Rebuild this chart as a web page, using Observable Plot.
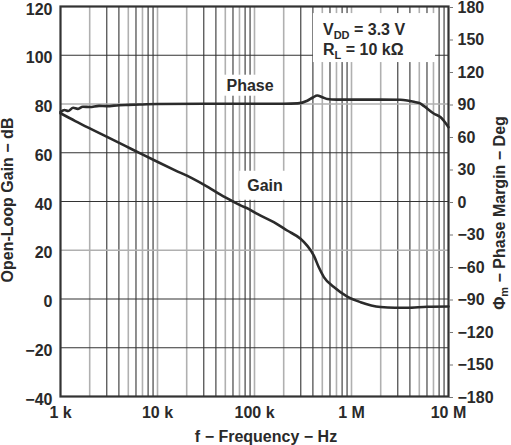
<!DOCTYPE html>
<html><head><meta charset="utf-8">
<script src="https://cdn.jsdelivr.net/npm/d3@7"></script>
<script src="https://cdn.jsdelivr.net/npm/@observablehq/plot@0.6"></script>
<style>
html,body{margin:0;padding:0;background:#fff;}
svg{font-family:"Liberation Sans",Arial,sans-serif;}
</style></head><body>
<div id="chart"></div>
<script>
// Open-loop gain (dB) vs frequency (Hz)
const gainFreq = [1000, 1420, 2100, 3130, 4650, 6890, 10200, 15200, 22600, 33600, 44600, 60000, 71800, 86700, 107000, 158000, 217000, 298000, 349000, 409000, 460000, 519000, 658000, 904000, 1240000, 1990000, 2800000, 3750000, 6030000, 10000000];
const gainDb   = [76.2, 73.0, 69.6, 66.2, 62.8, 59.4, 56.1, 52.8, 49.6, 45.8, 42.8, 40.0, 38.4, 37.0, 34.9, 31.5, 28.1, 24.7, 21.9, 17.8, 13.0, 9.0, 4.9, 1.0, -1.3, -3.3, -3.6, -3.6, -3.2, -3.1];

// Phase margin (deg) vs frequency (Hz)
const phaseFreq = [1000, 1100, 1200, 1350, 1500, 1700, 2000, 2500, 3000, 4000, 5000, 7000, 10000, 30000, 100000, 200000, 280000, 350000, 400000, 443000, 500000, 562000, 700000, 1000000, 2000000, 3200000, 3750000, 4400000, 5100000, 5600000, 7100000, 8300000, 10000000];
const phaseDeg  = [82.5, 84.5, 83.5, 86.5, 85.5, 87.5, 87.2, 88.3, 88.0, 88.9, 89.2, 89.6, 90.0, 90.3, 90.3, 90.3, 90.6, 93.0, 96.0, 97.9, 96.3, 94.7, 94.0, 94.0, 94.0, 93.9, 93.3, 92.0, 90.5, 88.0, 81.0, 77.8, 68.6];

const xTicks = [1e3, 1e4, 1e5, 1e6, 1e7];
const xTickLabels = ["1 k", "10 k", "100 k", "1 M", "10 M"];
const gainTicks = [-40, -20, 0, 20, 40, 60, 80, 100, 120];
const phaseTicks = [-180, -150, -120, -90, -60, -30, 0, 30, 60, 90, 120, 150, 180];

const GAIN_MIN = -40, GAIN_MAX = 120, PH_MIN = -180, PH_MAX = 180;
const toLeft = deg => (deg - PH_MIN) / (PH_MAX - PH_MIN) * (GAIN_MAX - GAIN_MIN) + GAIN_MIN;
const toPhase = v => (v - GAIN_MIN) / (GAIN_MAX - GAIN_MIN) * (PH_MAX - PH_MIN) + PH_MIN;
const minus = s => String(s).replace("-", "\u2212");

// log grid lines
const gridFreqs = [];
for (const dec of [1e3, 1e4, 1e5, 1e6]) for (let m = 1; m <= 9; m++) { const f = m * dec; if (f > 1e3) gridFreqs.push(f); }
const mant = f => Math.round(f / Math.pow(10, Math.floor(Math.log10(f) + 1e-9)));
const darkV = gridFreqs.filter(f => [3, 4, 6, 8, 9].includes(mant(f)));
const lightV = gridFreqs.filter(f => ![3, 4, 6, 8, 9].includes(mant(f)));
const darkH = [100, 60, 40, 0, -20];
const lightH = [80, 20];

const gainData = gainFreq.map((f, i) => ({f, v: gainDb[i]}));
const phaseData = phaseFreq.map((f, i) => ({f, v: toLeft(phaseDeg[i])}));

const plot = Plot.plot({
  width: 511, height: 445,
  marginLeft: 60, marginRight: 63, marginTop: 6, marginBottom: 49,
  style: {fontFamily: "'Liberation Sans', Arial, sans-serif", fontSize: "16px", fontWeight: "bold", color: "#2a2a2a", background: "white", overflow: "visible"},
  x: {type: "log", domain: [1e3, 1e7]},
  y: {domain: [GAIN_MIN, GAIN_MAX]},
  marks: [
    Plot.ruleX(lightV, {stroke: "#b0b0b0", strokeWidth: 1.6}),
    Plot.ruleX(darkV, {stroke: "#333", strokeWidth: 1.1}),
    Plot.ruleY(lightH, {stroke: "#b0b0b0", strokeWidth: 1.6}),
    Plot.ruleY(darkH, {stroke: "#333", strokeWidth: 1.1}),
    Plot.rect([0], {x1: 405000, x2: 7.35e6, y1: 97.0, y2: 117.1, fill: "white"}),
    Plot.frame({stroke: "#333", strokeWidth: 2.2}),
    Plot.axisX(xTicks, {anchor: "bottom", tickSize: 0, tickPadding: 10, tickFormat: d => xTickLabels[xTicks.indexOf(d)], label: null}),
    Plot.axisY(gainTicks, {anchor: "left", tickSize: 0, tickPadding: 8, dy: 3, tickFormat: minus, label: null}),
    Plot.axisY(phaseTicks.map(toLeft), {anchor: "right", tickSize: 4, tickPadding: 5, dy: 1, stroke: "#777", tickFormat: d => minus(Math.round(toPhase(d))), label: null}),
    Plot.line(gainData, {x: "f", y: "v", stroke: "#2b2b2b", strokeWidth: 2.6, curve: "monotone-x"}),
    Plot.line(phaseData, {x: "f", y: "v", stroke: "#2b2b2b", strokeWidth: 2.6, curve: "monotone-x"})
  ]
});

document.getElementById("chart").append(plot);

const svg = d3.select(plot);
const xs = plot.scale("x"), ys = plot.scale("y");
const font = "'Liberation Sans', Arial, sans-serif";

// curve labels with white boxes
function boxedLabel(txt, f, v, padX, padY) {
  const g = svg.insert("g", "g[aria-label='line']");
  const t = g.append("text").attr("x", xs.apply(f)).attr("y", ys.apply(v))
    .attr("text-anchor", "middle").attr("font-family", font).attr("font-size", 16)
    .attr("font-weight", "bold").attr("fill", "#2a2a2a").text(txt);
  const b = t.node().getBBox();
  g.insert("rect", "text").attr("x", b.x - padX).attr("y", b.y - padY)
    .attr("width", b.width + 2 * padX).attr("height", b.height + 2 * padY).attr("fill", "white");
}
boxedLabel("Phase", 91000, 85.25, 4, 2);
boxedLabel("Gain", 130000, 44.2, 8, 6);

// condition annotation
const ann = svg.append("g").attr("font-family", font).attr("font-size", 16).attr("font-weight", "bold").attr("fill", "#2a2a2a").attr("text-anchor", "start");
const ax = xs.apply(514000);
const l1 = ann.append("text").attr("x", ax).attr("y", ys.apply(108.1));
l1.append("tspan").text("V");
l1.append("tspan").attr("font-size", 11).attr("dy", 4).text("DD");
l1.append("tspan").attr("dy", -4).text(" = 3.3 V");
const l2 = ann.append("text").attr("x", ax).attr("y", ys.apply(99.9));
l2.append("tspan").text("R");
l2.append("tspan").attr("font-size", 11).attr("dy", 4).text("L");
l2.append("tspan").attr("dy", -4).text(" = 10 k\u03A9");

// axis titles
const titles = svg.append("g").attr("font-family", font).attr("font-size", 16).attr("font-weight", "bold").attr("fill", "#2a2a2a").attr("text-anchor", "middle");
titles.append("text").attr("x", 266).attr("y", 442).text("f \u2212 Frequency \u2212 Hz");
titles.append("text").attr("transform", "translate(13,200) rotate(-90)").text("Open-Loop Gain \u2212 dB");
const rt = titles.append("text").attr("transform", "translate(505,213) rotate(-90)");
rt.append("tspan").text("\u03A6");
rt.append("tspan").attr("font-size", 11).attr("dy", 3).text("m");
rt.append("tspan").attr("dy", -3).text(" \u2212 Phase Margin \u2212 Deg");
</script>
</body></html>
